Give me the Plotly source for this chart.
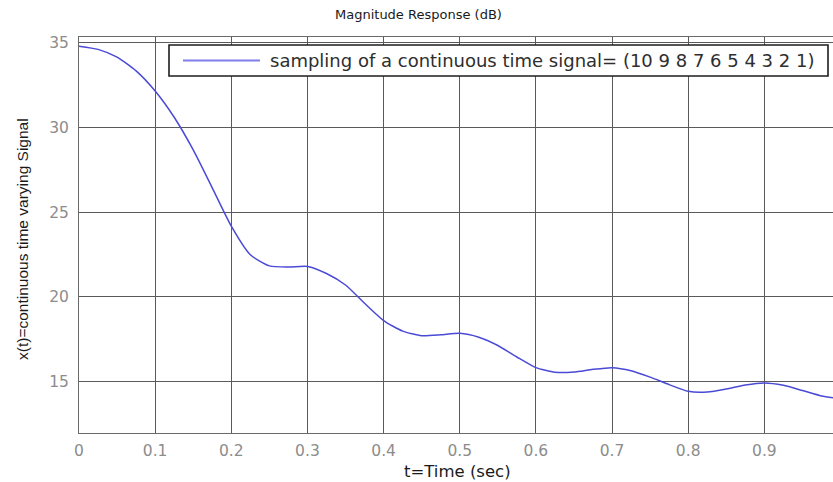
import plotly.graph_objects as go

# Normalized frequency (x pi rad/sample) and magnitude (dB) of the
# 10-tap ramp sequence (10 9 8 7 6 5 4 3 2 1)
freq = [0.000, 0.025, 0.050, 0.075, 0.100, 0.125, 0.150, 0.175, 0.200, 0.225,
        0.250, 0.275, 0.300, 0.325, 0.350, 0.375, 0.400, 0.425, 0.450, 0.475,
        0.500, 0.525, 0.550, 0.575, 0.600, 0.625, 0.650, 0.675, 0.700, 0.725,
        0.750, 0.775, 0.800, 0.825, 0.850, 0.875, 0.900, 0.925, 0.950, 0.975,
        1.000]
mag_db = [34.81, 34.62, 34.16, 33.35, 32.16, 30.61, 28.68, 26.44, 24.18, 22.49,
          21.83, 21.76, 21.80, 21.38, 20.70, 19.62, 18.60, 17.98, 17.71, 17.76,
          17.85, 17.62, 17.13, 16.45, 15.82, 15.55, 15.56, 15.72, 15.82, 15.64,
          15.26, 14.82, 14.42, 14.38, 14.56, 14.80, 14.92, 14.78, 14.47, 14.15,
          13.98]

x_ticks = [0, 0.1, 0.2, 0.3, 0.4, 0.5, 0.6, 0.7, 0.8, 0.9]
x_tick_labels = ["0", "0.1", "0.2", "0.3", "0.4", "0.5", "0.6", "0.7", "0.8", "0.9"]
y_ticks = [15, 20, 25, 30, 35]
y_tick_labels = ["15", "20", "25", "30", "35"]

series_name = "sampling of a continuous time signal= (10 9 8 7 6 5 4 3 2 1)"

W, H = 833, 482
M_L, M_R, M_T, M_B = 79, 0, 37, 49
plot_w = W - M_L - M_R
plot_h = H - M_T - M_B

line_color = "#4a4ad6"
grid_color = "#5a5a5a"
tick_font = dict(family="DejaVu Sans", size=15.5, color="#8c8c8c")


def px_x(p):
    """Pixel x (from left of figure) -> paper fraction."""
    return (p - M_L) / plot_w


def px_y(p):
    """Pixel y (from top of figure) -> paper fraction."""
    return (H - M_B - p) / plot_h


fig = go.Figure()
fig.add_trace(go.Scatter(
    x=freq, y=mag_db, mode="lines", name=series_name,
    line=dict(color=line_color, width=1.5, shape="spline", smoothing=0.6),
    showlegend=False,
))

# Legend box drawn in paper coordinates
fig.add_shape(type="rect", xref="paper", yref="paper",
              x0=px_x(169), x1=px_x(828), y0=px_y(76), y1=px_y(45),
              line=dict(color="#1e1e1e", width=1.6), fillcolor="white", layer="above")
fig.add_shape(type="line", xref="paper", yref="paper",
              x0=px_x(183), x1=px_x(260), y0=px_y(60.5), y1=px_y(60.5),
              line=dict(color="#7f7fec", width=2), layer="above")
fig.add_annotation(xref="paper", yref="paper", x=px_x(268), y=px_y(60.5),
                   xanchor="left", yanchor="middle", showarrow=False,
                   text=series_name,
                   font=dict(family="DejaVu Sans", size=18, color="#2e2e2e"))

# Title and axis labels
fig.add_annotation(xref="paper", yref="paper", x=px_x(418), y=px_y(15),
                   xanchor="center", yanchor="middle", showarrow=False,
                   text="Magnitude Response (dB)",
                   font=dict(family="DejaVu Sans", size=13, color="#1a1a1a"))
fig.add_annotation(xref="paper", yref="paper", x=px_x(457), y=px_y(471),
                   xanchor="center", yanchor="middle", showarrow=False,
                   text="t=Time (sec)",
                   font=dict(family="DejaVu Sans", size=16.5, color="#1a1a1a"))
fig.add_annotation(xref="paper", yref="paper", x=px_x(22), y=px_y(239),
                   xanchor="center", yanchor="middle", showarrow=False,
                   textangle=-90,
                   text="x(t)=continuous time varying Signal",
                   font=dict(family="Liberation Sans", size=15.5, color="#1a1a1a"))

fig.update_xaxes(
    range=[0, (W - M_L) / 761.5], tickvals=x_ticks, ticktext=x_tick_labels,
    showgrid=True, gridcolor=grid_color, gridwidth=1, zeroline=False,
    showline=True, linecolor="#6a6a6a", linewidth=1, mirror=True,
    ticks="", tickfont=tick_font, ticklabelstandoff=3,
)
fig.update_yaxes(
    range=[11.96, 35.35], tickvals=y_ticks, ticktext=y_tick_labels,
    showgrid=True, gridcolor=grid_color, gridwidth=1, zeroline=False,
    showline=True, linecolor="#6a6a6a", linewidth=1, mirror=False,
    ticks="", tickfont=tick_font, ticklabelstandoff=6,
)
fig.update_layout(
    width=W, height=H,
    margin=dict(l=M_L, r=M_R, t=M_T, b=M_B, pad=0),
    paper_bgcolor="white", plot_bgcolor="white",
    showlegend=False,
)

fig.write_html("out.html")
